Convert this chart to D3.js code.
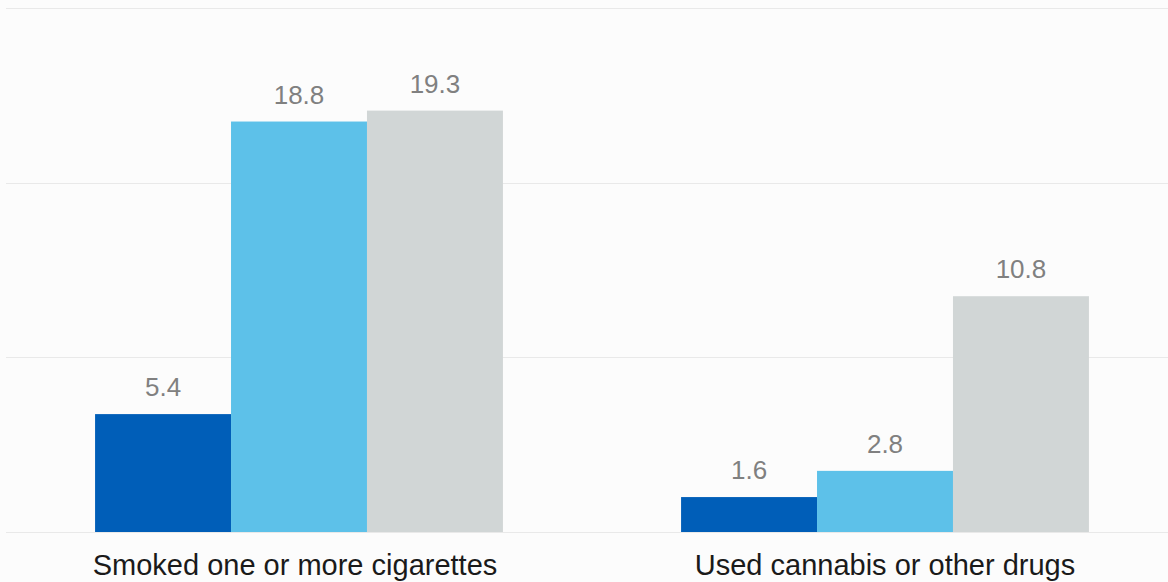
<!DOCTYPE html>
<html>
<head>
<meta charset="utf-8">
<script src="https://cdn.jsdelivr.net/npm/d3@7"></script>
<style>
  html, body { margin: 0; padding: 0; background: #fcfcfc; }
  svg { display: block; }
</style>
</head>
<body>
<svg id="chart" width="1168" height="582"></svg>
<script>
const categories = ["Smoked one or more cigarettes", "Used cannabis or other drugs"];
const seriesNames = ["Series 1", "Series 2", "Series 3"];
const series1 = [5.4, 1.6];
const series2 = [18.8, 2.8];
const series3 = [19.3, 10.8];
const yTicks = [0, 8, 16, 24];
const colors = ["#005eb8", "#5dc1e9", "#d1d6d6"];

const svg = d3.select("#chart");
const W = 1168, H = 582;
svg.append("rect").attr("width", W).attr("height", H).attr("fill", "#fcfcfc");

const x0 = d3.scaleBand().domain(categories).range([6, 1178])
  .paddingInner(0.304).paddingOuter(0.152);
const x1 = d3.scaleBand().domain(seriesNames).range([0, x0.bandwidth()]).padding(0);
const y = d3.scaleLinear().domain([0, 24]).range([532, 8]);

// gridlines
svg.append("g").selectAll("line").data(yTicks).join("line")
  .attr("x1", 6).attr("x2", W)
  .attr("y1", d => Math.round(y(d)) + 0.5).attr("y2", d => Math.round(y(d)) + 0.5)
  .attr("stroke", "#e9e9e9").attr("stroke-width", 1);

const allSeries = [series1, series2, series3];
const data = [];
categories.forEach((c, i) => {
  allSeries.forEach((s, j) => data.push({cat: c, ser: seriesNames[j], v: s[i], j}));
});

const g = svg.append("g");
g.selectAll("rect").data(data).join("rect")
  .attr("x", d => x0(d.cat) + x1(d.ser))
  .attr("width", x1.bandwidth())
  .attr("y", d => y(d.v))
  .attr("height", d => y(0) - y(d.v))
  .attr("fill", d => colors[d.j]);

g.selectAll("text").data(data).join("text")
  .attr("x", d => x0(d.cat) + x1(d.ser) + x1.bandwidth() / 2)
  .attr("y", d => y(d.v) - 18)
  .attr("text-anchor", "middle")
  .attr("font-family", "Liberation Sans, Arial, sans-serif")
  .attr("font-size", 26)
  .attr("fill", "#808080")
  .text(d => d.v.toFixed(1));

const xAxis = d3.axisBottom(x0).tickSize(0).tickPadding(0);
const ax = svg.append("g").attr("transform", "translate(0,532)").call(xAxis);
ax.select(".domain").remove();
ax.selectAll("text")
  .attr("y", 0).attr("dy", 0)
  .attr("x", (d, i) => i === 0 ? -4 : 0)
  .attr("transform", "translate(0,43)")
  .attr("font-family", "Liberation Sans, Arial, sans-serif")
  .attr("font-size", 29)
  .attr("fill", "#1a1a1a");
</script>
</body>
</html>
